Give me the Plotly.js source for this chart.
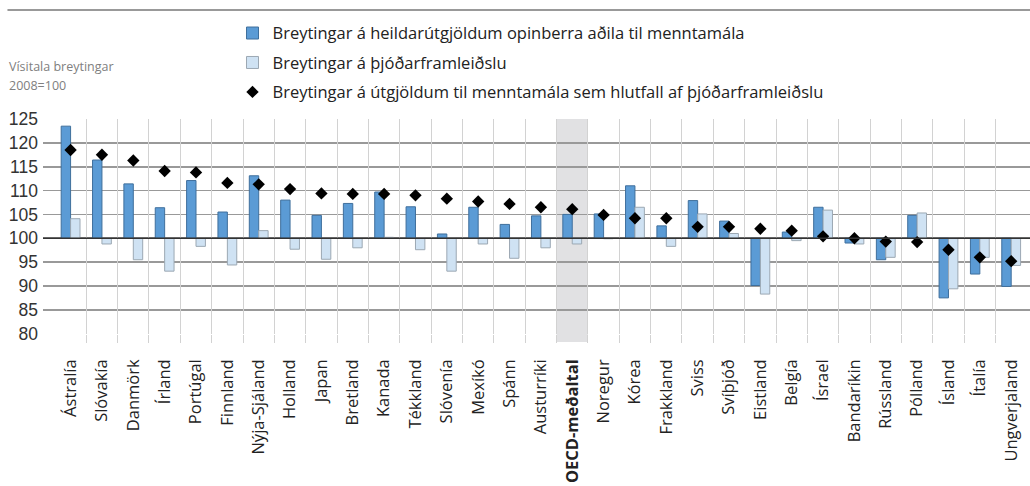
<!DOCTYPE html>
<html>
<head>
<meta charset="utf-8">
<script src="https://cdn.plot.ly/plotly-3.0.1.min.js"></script>
<style>html,body{margin:0;padding:0;background:#fff;}#chart{width:1030px;height:486px;}</style>
</head>
<body>
<div id="chart"></div>
<script>
const categories = ["Ástralía","Slóvakía","Danmörk","Írland","Portúgal","Finnland","Nýja-Sjáland","Holland","Japan","Bretland","Kanada","Tékkland","Slóvenía","Mexíkó","Spánn","Austurríki","OECD-meðaltal","Noregur","Kórea","Frakkland","Sviss","Svíþjóð","Eistland","Belgía","Ísrael","Bandaríkin","Rússland","Pólland","Ísland","Ítalía","Ungverjaland"];
const spending = [123.5,116.4,111.4,106.4,112.1,105.5,113.1,108.0,104.8,107.3,109.7,106.6,100.9,106.5,102.9,104.7,105.0,105.1,111.0,102.6,107.9,103.6,90.1,101.3,106.5,99.0,95.5,104.8,87.5,92.5,89.9];
const gdp = [104.1,98.8,95.5,93.1,98.3,94.4,101.6,97.7,95.6,98.0,100.2,97.6,93.1,98.8,95.8,98.0,98.8,99.9,106.5,98.3,105.1,101.0,88.3,99.5,105.9,98.8,96.0,105.3,89.4,96.0,94.3];
const shareOfGdp = [118.5,117.5,116.3,114.1,113.8,111.6,111.3,110.3,109.4,109.3,109.3,109.0,108.3,107.7,107.2,106.5,106.1,104.9,104.2,104.2,102.4,102.4,102.0,101.6,100.4,100.0,99.3,99.2,97.6,96.0,95.2];
const seriesNames = ["Breytingar á heildarútgjöldum opinberra aðila til menntamála","Breytingar á þjóðarframleiðslu","Breytingar á útgjöldum til menntamála sem hlutfall af þjóðarframleiðslu"];
const baseIndex = 100;
const highlight = "OECD-meðaltal";
const yTicks = [80,85,90,95,100,105,110,115,120,125];

const hlIdx = categories.indexOf(highlight);
const tickText = categories.map(c => c === highlight ? "<b>" + c + "</b>" : c);
const boundaries = categories.slice(1).map((c, i) => i + 0.5);
const xRange = [-0.88, 30.6];

const traces = [
  {type:"bar", name:seriesNames[0], x:categories, y:spending.map(v => v - baseIndex), base:baseIndex,
   marker:{color:"#5b9bd5", line:{color:"#3f6f9c", width:1}}, legendgroup:"a", hoverinfo:"skip"},
  {type:"bar", name:seriesNames[1], x:categories, y:gdp.map(v => v - baseIndex), base:baseIndex,
   marker:{color:"#cfe2f3", line:{color:"#9ca8b3", width:1}}, legendgroup:"b", hoverinfo:"skip"},
  {type:"scatter", mode:"markers", name:seriesNames[2], x:categories, y:shareOfGdp,
   marker:{symbol:"diamond", size:9.5, color:"#000"}, legendgroup:"c", hoverinfo:"skip"},
  {type:"scatter", mode:"markers", x:boundaries, y:boundaries.map(() => null), xaxis:"x2",
   showlegend:false, hoverinfo:"skip", marker:{opacity:0}}
];

const layout = {
  width:1030, height:486,
  margin:{l:43, r:0, t:119, b:152},
  paper_bgcolor:"#fff", plot_bgcolor:"rgba(0,0,0,0)",
  barmode:"group", bargap:0.4, bargroupgap:0,
  showlegend:true,
  legend:{x:0.192, xanchor:"left", y:1.48, yanchor:"top", orientation:"v",
          font:{family:"Open Sans", size:16.5, color:"#222"}, bgcolor:"rgba(0,0,0,0)",
          tracegroupgap:5, traceorder:"grouped"},
  xaxis:{type:"category", categoryorder:"array", categoryarray:categories, range:xRange,
         tickmode:"array", tickvals:categories, ticktext:tickText, tickangle:-90,
         tickfont:{family:"Open Sans", size:16.5, color:"#222"}, showgrid:false, ticks:"",
         ticklabelstandoff:21, zeroline:false, showline:false, fixedrange:true},
  xaxis2:{overlaying:"x", anchor:"y", side:"bottom", range:xRange, tickmode:"array", tickvals:boundaries,
          showticklabels:false, showgrid:true, gridcolor:"#d2d2d2", gridwidth:1,
          ticks:"outside", ticklen:8, tickcolor:"#d2d2d2", tickwidth:1, zeroline:false, showline:false},
  yaxis:{range:[79.93, 125], tickmode:"array", tickvals:yTicks, showgrid:true, gridcolor:"#999", gridwidth:1.6,
         tickfont:{family:"Liberation Sans", size:17.5, color:"#333"}, ticks:"", ticklabelstandoff:4,
         zeroline:false, showline:false, fixedrange:true},
  shapes:[
    {type:"rect", xref:"x", yref:"paper", x0:hlIdx-0.5, x1:hlIdx+0.5, y0:-0.037, y1:1,
     fillcolor:"#e1e1e3", line:{width:0}, layer:"below"},
    {type:"line", xref:"paper", yref:"y", x0:0, x1:1, y0:baseIndex, y1:baseIndex,
     line:{color:"#333", width:1.6}, layer:"above"},
    {type:"line", xref:"paper", yref:"paper", x0:-0.036, x1:1, y0:1.507, y1:1.507,
     line:{color:"#999", width:2}}
  ],
  annotations:[
    {xref:"paper", yref:"paper", x:-0.036, y:1.242, xanchor:"left", yanchor:"middle", showarrow:false,
     text:"Vísitala breytingar", font:{family:"Open Sans", size:12.5, color:"#808080"}},
    {xref:"paper", yref:"paper", x:-0.036, y:1.158, xanchor:"left", yanchor:"middle", showarrow:false,
     text:"2008=100", font:{family:"Open Sans", size:12.5, color:"#808080"}}
  ]
};

Plotly.newPlot("chart", traces, layout, {displayModeBar:false, staticPlot:true});
</script>
</body>
</html>
